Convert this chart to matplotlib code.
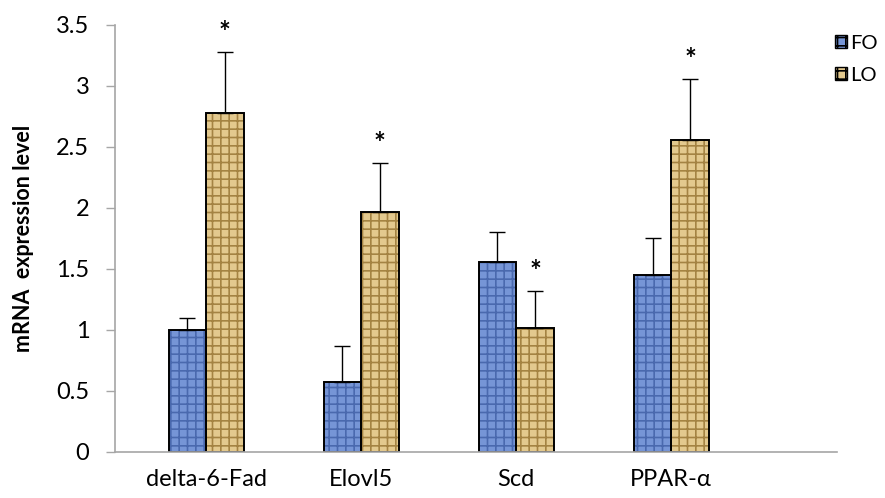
import numpy as np
import matplotlib.pyplot as plt
from matplotlib.patches import Patch

plt.rcParams['font.family'] = ['Lato', 'DejaVu Sans']
plt.rcParams['hatch.linewidth'] = 1.2

genes = ['delta-6-Fad', 'Elovl5', 'Scd', 'PPAR-α']
fo_vals = [1.00, 0.57, 1.56, 1.45]
fo_err = [0.10, 0.30, 0.24, 0.30]
lo_vals = [2.78, 1.97, 1.02, 2.56]
lo_err = [0.50, 0.40, 0.30, 0.50]
lo_signif = [True, True, True, True]

x = np.arange(len(genes))
w = 0.242

fig = plt.figure(figsize=(8.85, 4.98), dpi=100)
ax = fig.add_axes([0.130, 0.0924, 0.816, 0.8574])

# textured fills
ax.bar(x - w / 2, fo_vals, w, color='#7695D6', hatch='++', edgecolor='#4A69AE', linewidth=0)
ax.bar(x + w / 2, lo_vals, w, color='#E3C98E', hatch='++', edgecolor='#A48343', linewidth=0)
# outlines
ax.bar(x - w / 2, fo_vals, w, fill=False, edgecolor='black', linewidth=1.4)
ax.bar(x + w / 2, lo_vals, w, fill=False, edgecolor='black', linewidth=1.4)

err_fo = [np.zeros(len(fo_err)), fo_err]
err_lo = [np.zeros(len(lo_err)), lo_err]
ax.errorbar(x - w / 2, fo_vals, yerr=err_fo, fmt='none', ecolor='black', elinewidth=1, capsize=6, capthick=1)
ax.errorbar(x + w / 2, lo_vals, yerr=err_lo, fmt='none', ecolor='black', elinewidth=1, capsize=6, capthick=1)

for xi, v, e, s in zip(x, lo_vals, lo_err, lo_signif):
    if s:
        ax.annotate('*', (xi + w / 2, v + e), xytext=(0, 4), textcoords='offset points',
                    ha='center', va='bottom', fontsize=20, fontweight='bold')

ax.set_xlim(-0.587, 4.07)
ax.set_ylim(0, 3.5)
ax.set_yticks(np.arange(0, 3.51, 0.5))
ax.set_yticklabels(['0', '0.5', '1', '1.5', '2', '2.5', '3', '3.5'])
ax.set_xticks(x)
ax.set_xticklabels(genes)
ax.tick_params(axis='x', length=0, pad=12, labelsize=17)
ax.tick_params(axis='y', length=6.5, width=1, color='#A6A6A6', labelsize=17, pad=12)
ax.set_ylabel('mRNA  expression level', fontsize=15.5, fontweight='bold', labelpad=16)

for side in ['top', 'right']:
    ax.spines[side].set_visible(False)
for side in ['left', 'bottom']:
    ax.spines[side].set_color('#A6A6A6')
    ax.spines[side].set_linewidth(1.2)

handles = [Patch(facecolor='#7695D6', edgecolor='black', hatch='++'),
           Patch(facecolor='#E3C98E', edgecolor='black', hatch='++')]
fig.legend(handles, ['FO', 'LO'], loc='upper left', bbox_to_anchor=(0.943, 0.93),
           frameon=False, fontsize=14.5, handlelength=0.6, handleheight=0.6,
           handletextpad=0.15, labelspacing=0.75, borderpad=0, borderaxespad=0)

fig.savefig('out.png', dpi=100)
